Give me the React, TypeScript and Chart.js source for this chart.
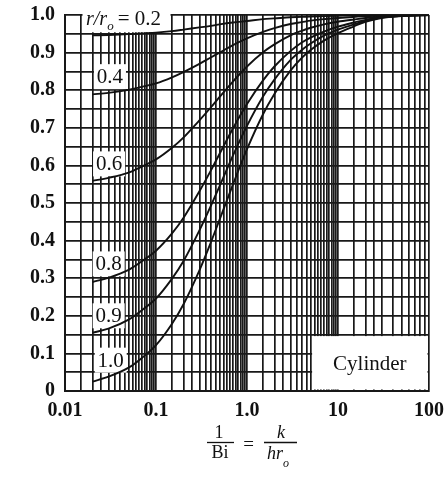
import React, { useEffect, useRef } from 'react';
import { Chart, registerables } from 'chart.js';

Chart.register(...registerables);

// ---------- data ----------
const invBi = [0.02, 0.03, 0.05, 0.07, 0.1, 0.15, 0.2, 0.3, 0.4, 0.5, 0.7, 1, 1.5, 2, 3, 4, 5, 7, 10, 15, 20, 30, 50, 100];

const r02 = [0.946, 0.947, 0.949, 0.951, 0.953, 0.957, 0.961, 0.967, 0.971, 0.975, 0.980, 0.984, 0.989, 0.991, 0.994, 0.995, 0.996, 0.997, 0.998, 0.999, 0.999, 1.0, 1.0, 1.0];
const r04 = [0.789, 0.793, 0.801, 0.809, 0.818, 0.834, 0.848, 0.870, 0.887, 0.900, 0.920, 0.938, 0.955, 0.965, 0.976, 0.981, 0.985, 0.989, 0.992, 0.995, 0.997, 0.998, 0.999, 1.0];
const r06 = [0.559, 0.567, 0.581, 0.597, 0.616, 0.647, 0.674, 0.720, 0.754, 0.782, 0.823, 0.863, 0.901, 0.922, 0.946, 0.958, 0.966, 0.975, 0.982, 0.988, 0.992, 0.996, 0.999, 1.0];
const r08 = [0.290, 0.301, 0.322, 0.345, 0.373, 0.419, 0.460, 0.531, 0.586, 0.631, 0.698, 0.763, 0.826, 0.863, 0.904, 0.927, 0.940, 0.956, 0.969, 0.980, 0.987, 0.994, 0.998, 1.0];
const r09 = [0.155, 0.166, 0.190, 0.215, 0.246, 0.299, 0.345, 0.427, 0.492, 0.545, 0.626, 0.705, 0.783, 0.828, 0.880, 0.907, 0.924, 0.945, 0.961, 0.975, 0.985, 0.993, 0.998, 1.0];
const r10 = [0.025, 0.038, 0.062, 0.088, 0.122, 0.179, 0.230, 0.321, 0.395, 0.456, 0.549, 0.643, 0.736, 0.790, 0.852, 0.886, 0.907, 0.932, 0.952, 0.970, 0.982, 0.992, 0.997, 1.0];

const seriesNames = ['0.2', '0.4', '0.6', '0.8', '0.9', '1.0'];
const seriesValues = [r02, r04, r06, r08, r09, r10];

// x grid (log paper)
const xDecades = [0.01, 0.1, 1];
const xMultiples = [1, 1.5, 2, 2.5, 3, 3.5, 4, 4.5, 5, 5.5, 6, 6.5, 7, 7.5, 8, 8.5, 9, 9.5];
const lastDecade = 10;
const lastDecadeMultiples = [1, 1.5, 2, 2.5, 3, 4, 5, 6, 7, 8, 9, 10];
const xLabelValues = [0.01, 0.1, 1, 10, 100];
const xLabelTexts = ['0.01', '0.1', '1.0', '10', '100'];

// label annotations (data coords of text centres)
const curveLabels = [
  { text: '0.4', x: 0.0312, y: 0.836 },
  { text: '0.6', x: 0.0305, y: 0.604 },
  { text: '0.8', x: 0.0302, y: 0.338 },
  { text: '0.9', x: 0.0302, y: 0.200 },
  { text: '1.0', x: 0.0318, y: 0.082 },
];

const xGrid: number[] = [];
xDecades.forEach((d) => xMultiples.forEach((m) => xGrid.push(parseFloat((d * m).toPrecision(6)))));
lastDecadeMultiples.forEach((m) => xGrid.push(parseFloat((lastDecade * m).toPrecision(6))));

const GRID = '#181818';
const INK = '#111111';
const SERIF = '"Liberation Serif", "Times New Roman", serif';

const overlay = {
  id: 'overlay',
  beforeDatasetsDraw(chart: any) {
    const { ctx, scales } = chart;
    const x = scales.x, y = scales.y;
    ctx.save();
    ctx.fillStyle = '#ffffff';
    {
      const l = x.getPixelForValue(0.015) + 1.5;
      const r = x.getPixelForValue(0.15) - 1.5;
      const t = y.getPixelForValue(1.0) - 4;
      const b = y.getPixelForValue(0.95) - 1.5;
      ctx.fillRect(l, t, r - l, b - t);
    }
    {
      const l = x.getPixelForValue(5) + 1.5;
      const r = x.getPixelForValue(100) - 1.5;
      const t = y.getPixelForValue(0.15) + 1.5;
      const b = y.getPixelForValue(0) - 1.5;
      ctx.fillRect(l, t, r - l, b - t);
    }
    curveLabels.forEach((c) => {
      const cx = x.getPixelForValue(c.x);
      const cy = y.getPixelForValue(c.y);
      ctx.fillRect(cx - 16, cy - 12.5, 32, 25);
    });
    ctx.restore();
  },
  afterDatasetsDraw(chart: any) {
    const { ctx, scales } = chart;
    const x = scales.x, y = scales.y;
    ctx.save();
    ctx.fillStyle = INK;
    ctx.textAlign = 'center';
    ctx.textBaseline = 'middle';
    ctx.font = `21px ${SERIF}`;
    curveLabels.forEach((c) => {
      ctx.fillText(c.text, x.getPixelForValue(c.x), y.getPixelForValue(c.y) + 1);
    });
    ctx.textAlign = 'left';
    ctx.textBaseline = 'alphabetic';
    let px = x.getPixelForValue(0.015) + 5;
    const base = y.getPixelForValue(1.0) + 10;
    ctx.font = `italic 20px ${SERIF}`;
    ctx.fillText('r/r', px, base);
    px += ctx.measureText('r/r').width;
    ctx.font = `italic 13px ${SERIF}`;
    ctx.fillText('o', px, base + 5);
    px += ctx.measureText('o').width + 4;
    ctx.font = `21px ${SERIF}`;
    ctx.fillText('= 0.2', px, base);
    ctx.textAlign = 'center';
    ctx.textBaseline = 'middle';
    ctx.font = `21px ${SERIF}`;
    const cx = (x.getPixelForValue(5) + x.getPixelForValue(100)) / 2;
    const cy = (y.getPixelForValue(0.15) + y.getPixelForValue(0)) / 2 + 2;
    ctx.fillText('Cylinder', cx, cy);
    ctx.restore();
  },
  afterDraw(chart: any) {
    const { ctx } = chart;
    ctx.save();
    ctx.fillStyle = INK;
    ctx.strokeStyle = INK;
    ctx.lineWidth = 1.3;
    ctx.textAlign = 'center';
    ctx.textBaseline = 'alphabetic';
    const barY = 442.5;
    ctx.font = `18px ${SERIF}`;
    ctx.fillText('1', 219, 438);
    ctx.beginPath(); ctx.moveTo(207, barY); ctx.lineTo(234, barY); ctx.stroke();
    ctx.fillText('Bi', 220, 458);
    ctx.font = `19px ${SERIF}`;
    ctx.fillText('=', 248.5, 450);
    ctx.font = `italic 18px ${SERIF}`;
    ctx.fillText('k', 281, 438);
    ctx.beginPath(); ctx.moveTo(264, barY); ctx.lineTo(297, barY); ctx.stroke();
    ctx.textAlign = 'left';
    ctx.fillText('hr', 267, 459);
    const w = ctx.measureText('hr').width;
    ctx.font = `italic 12px ${SERIF}`;
    ctx.fillText('o', 267 + w, 467);
    ctx.restore();
  },
};

export default function App() {
  const ref = useRef<HTMLCanvasElement | null>(null);
  useEffect(() => {
    if (!ref.current) return;
    const datasets = seriesValues.map((vals, i) => ({
      label: 'r/ro = ' + seriesNames[i],
      data: invBi.map((xv, j) => ({ x: xv, y: vals[j] })),
      borderColor: INK,
      borderWidth: 1.9,
      pointRadius: 0,
      fill: false,
      cubicInterpolationMode: 'monotone' as const,
    }));
    const chart = new Chart(ref.current, {
      type: 'line',
      data: { datasets },
      plugins: [overlay],
      options: {
        animation: false,
        responsive: false,
        layout: { padding: { left: 0, top: 15, right: 17, bottom: 0 } },
        plugins: { legend: { display: false }, tooltip: { enabled: false } },
        scales: {
          x: {
            type: 'logarithmic',
            min: 0.01,
            max: 100,
            afterBuildTicks: (scale: any) => {
              scale.ticks = xGrid.map((v) => ({ value: v }));
            },
            afterFit: (scale: any) => {
              scale.height = 93;
              scale.paddingLeft = 0;
              scale.paddingRight = 0;
            },
            grid: { color: GRID, lineWidth: 1.7, drawTicks: false },
            border: { color: GRID, width: 2 },
            ticks: {
              autoSkip: false,
              maxRotation: 0,
              minRotation: 0,
              padding: 8,
              color: INK,
              font: { family: SERIF, size: 20, weight: 'bold' },
              callback: (v: any) => {
                const val = Number(v);
                const k = xLabelValues.findIndex((lv) => Math.abs(Math.log10(lv) - Math.log10(val)) < 1e-6);
                return k >= 0 ? xLabelTexts[k] : '';
              },
            },
          },
          y: {
            type: 'linear',
            min: 0,
            max: 1,
            afterFit: (scale: any) => {
              scale.width = 65;
              scale.paddingTop = 0;
              scale.paddingBottom = 0;
            },
            grid: { color: GRID, lineWidth: 1.7, drawTicks: false },
            border: { color: GRID, width: 2 },
            ticks: {
              stepSize: 0.05,
              autoSkip: false,
              padding: 10,
              color: INK,
              font: { family: SERIF, size: 20, weight: 'bold' },
              callback: (v: any) => {
                const k = Math.round(Number(v) * 20);
                if (k % 2 !== 0) return '';
                return k === 0 ? '0' : (k / 20).toFixed(1);
              },
            },
          },
        },
      } as any,
    });
    return () => chart.destroy();
  }, []);
  return (
    <div style={{ position: 'fixed', left: 0, top: 0, width: 446, height: 484, background: '#ffffff' }}>
      <canvas ref={ref} width={446} height={484} style={{ display: 'block', width: 446, height: 484 }} />
    </div>
  );
}
